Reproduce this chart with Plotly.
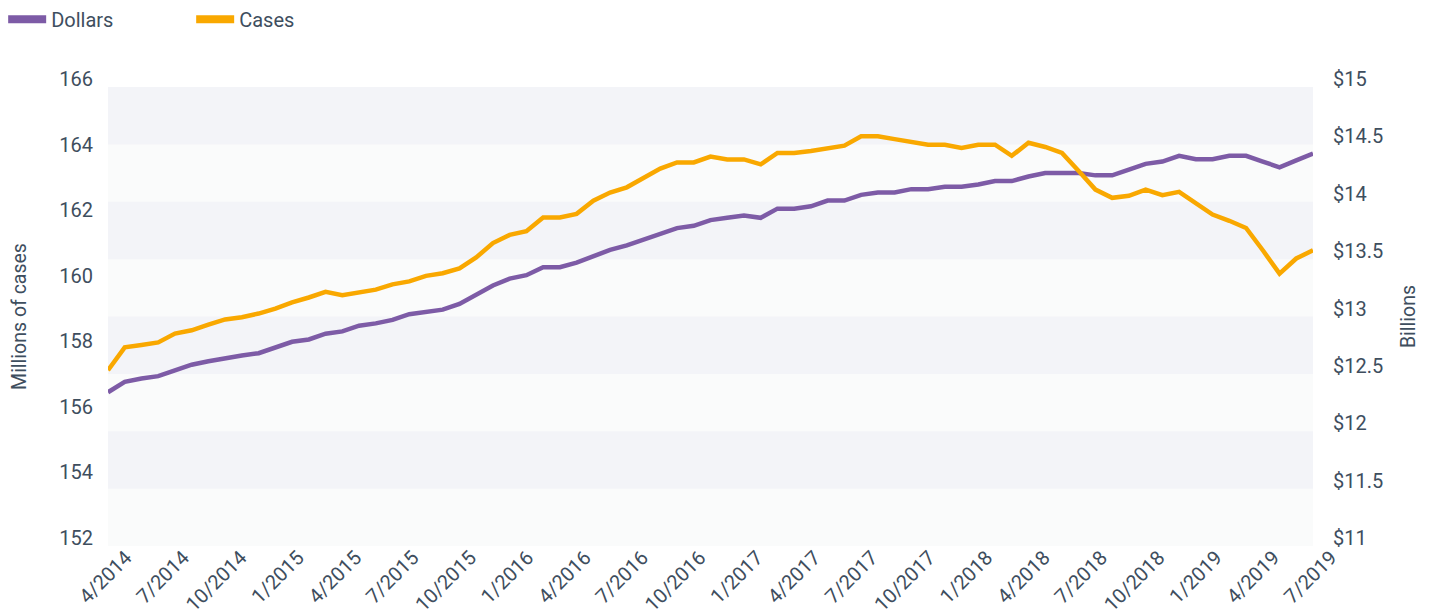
import numpy as np
import plotly.graph_objects as go

# periods plotted evenly from 4/2014 to 7/2019
periods = list(range(73))

tick_labels = ["4/2014", "7/2014", "10/2014", "1/2015", "4/2015", "7/2015", "10/2015",
               "1/2016", "4/2016", "7/2016", "10/2016", "1/2017", "4/2017", "7/2017",
               "10/2017", "1/2018", "4/2018", "7/2018", "10/2018", "1/2019", "4/2019", "7/2019"]

# Millions of cases (left axis)
cases = [157.36, 158.06, 158.13, 158.21, 158.48, 158.58, 158.75, 158.91, 158.98, 159.09,
         159.24, 159.43, 159.58, 159.75, 159.65, 159.73, 159.82, 159.98, 160.07, 160.24,
         160.32, 160.47, 160.80, 161.24, 161.49, 161.60, 162.02, 162.02, 162.13, 162.53,
         162.78, 162.94, 163.21, 163.51, 163.70, 163.70, 163.88, 163.79, 163.79, 163.64,
         163.99, 163.99, 164.05, 164.14, 164.21, 164.50, 164.50, 164.41, 164.32, 164.24,
         164.24, 164.14, 164.24, 164.24, 163.90, 164.30, 164.17, 163.99, 163.44, 162.87,
         162.62, 162.68, 162.87, 162.70, 162.80, 162.46, 162.11, 161.92, 161.70, 161.02,
         160.31, 160.77, 161.02]

# Billions of dollars (right axis)
dollars = [12.34, 12.43, 12.46, 12.48, 12.53, 12.58, 12.61, 12.64, 12.66, 12.68,
           12.73, 12.78, 12.80, 12.85, 12.87, 12.92, 12.94, 12.97, 13.02, 13.04,
           13.06, 13.11, 13.19, 13.27, 13.33, 13.36, 13.43, 13.43, 13.47, 13.53,
           13.58, 13.62, 13.67, 13.72, 13.77, 13.79, 13.84, 13.86, 13.88, 13.86,
           13.94, 13.94, 13.96, 14.01, 14.01, 14.06, 14.08, 14.08, 14.11, 14.11,
           14.13, 14.13, 14.15, 14.18, 14.18, 14.22, 14.25, 14.25, 14.25, 14.23,
           14.23, 14.28, 14.33, 14.35, 14.40, 14.37, 14.37, 14.40, 14.40, 14.35,
           14.30, 14.36, 14.42]

cases_ticks = [152, 154, 156, 158, 160, 162, 164, 166]
dollar_ticks = [11, 11.5, 12, 12.5, 13, 13.5, 14, 14.5, 15]

PURPLE = "#7d5ba6"
ORANGE = "#f9a800"
TEXT = "#3e4e5e"
FONT = "Roboto"

fig = go.Figure()

# legend swatches (thicker than the lines)
fig.add_trace(go.Scatter(x=[None], y=[None], mode="lines", name="Dollars",
                         line=dict(color=PURPLE, width=8), yaxis="y"))
fig.add_trace(go.Scatter(x=[None], y=[None], mode="lines", name="Cases",
                         line=dict(color=ORANGE, width=8), yaxis="y2"))

fig.add_trace(go.Scatter(x=periods, y=dollars, mode="lines", showlegend=False,
                         line=dict(color=PURPLE, width=4.5), yaxis="y"))
fig.add_trace(go.Scatter(x=periods, y=cases, mode="lines", showlegend=False,
                         line=dict(color=ORANGE, width=4.5), yaxis="y2"))

# alternating background bands on the dollar grid
for lo, hi in zip(dollar_ticks[1::2], dollar_ticks[2::2]):
    fig.add_shape(type="rect", xref="paper", x0=0, x1=1, yref="y", y0=lo, y1=hi,
                  fillcolor="#f3f4f8", line_width=0, layer="below")

# the page body adds an 8px margin, so the figure is sized to fit inside the window
fig.update_layout(
    width=1424, height=603,
    margin=dict(l=100, r=119, t=79, b=65, autoexpand=False),
    paper_bgcolor="white", plot_bgcolor="#fafbfb",
    font=dict(family=FONT, size=20, color=TEXT),
    legend=dict(orientation="h", xref="paper", yref="paper",
                x=-0.087, y=1.19, xanchor="left", yanchor="top",
                entrywidth=135, entrywidthmode="pixels", itemwidth=38,
                font=dict(size=20, color=TEXT)),
    xaxis=dict(range=[0, 72], tickvals=np.linspace(0, 72, len(tick_labels)),
               ticktext=tick_labels, tickangle=-45, showgrid=False,
               zeroline=False, showline=False, ticks="", automargin=False,
               ticklabelshift=18, ticklabelstandoff=-5),
    yaxis=dict(side="right", range=[11, 15], tickvals=dollar_ticks,
               ticktext=["$" + f"{v:g}" for v in dollar_ticks],
               showgrid=False, zeroline=False, ticks="", automargin=False,
               ticklabelshift=-8, ticklabelstandoff=19,
               title=dict(text="Billions", standoff=19, font=dict(size=19.5))),
    yaxis2=dict(side="left", overlaying="y", range=[152, 166], tickvals=cases_ticks,
                showgrid=False, zeroline=False, ticks="", automargin=False,
                ticklabelshift=-8, ticklabelstandoff=14,
                title=dict(text="Millions of cases", standoff=30, font=dict(size=19.5))),
)

fig.write_html("out.html")
